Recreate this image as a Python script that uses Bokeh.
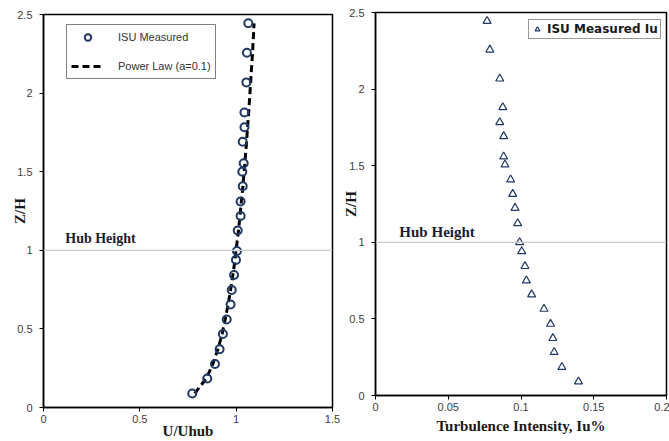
from bokeh.plotting import figure
from bokeh.layouts import row
from bokeh.models import Span, Label, Legend, LegendItem, FixedTicker, Range1d
from bokeh.embed import file_html
from bokeh.resources import INLINE

# ---- data ----
zh_measured = [0.089, 0.185, 0.277, 0.370, 0.467, 0.560, 0.655, 0.748, 0.843, 0.939,
               0.996, 1.126, 1.218, 1.311, 1.407, 1.500, 1.554, 1.690, 1.783, 1.877,
               2.068, 2.257, 2.444]
u_measured = [0.772, 0.850, 0.890, 0.914, 0.931, 0.951, 0.971, 0.977, 0.989, 0.999,
              1.004, 1.008, 1.023, 1.023, 1.034, 1.032, 1.039, 1.034, 1.043, 1.043,
              1.053, 1.056, 1.063]
u_power_law = [0.785, 0.845, 0.879, 0.905, 0.927, 0.943, 0.958, 0.971, 0.983, 0.994,
               0.999, 1.012, 1.020, 1.027, 1.035, 1.041, 1.045, 1.054, 1.059, 1.065,
               1.075, 1.085, 1.093]
iu_measured = [0.1395, 0.1281, 0.1228, 0.1219, 0.1203, 0.1158, 0.1073, 0.1037, 0.1027, 0.1005,
               0.0991, 0.0977, 0.0959, 0.0943, 0.0929, 0.0890, 0.0881, 0.0881, 0.0854, 0.0875,
               0.0854, 0.0786, 0.0767]
zh_iu = [0.091, 0.185, 0.283, 0.374, 0.467, 0.565, 0.659, 0.750, 0.844, 0.941,
         1.000, 1.124, 1.224, 1.315, 1.409, 1.507, 1.559, 1.692, 1.783, 1.881,
         2.068, 2.257, 2.444]

x1_ticks = [0, 0.5, 1, 1.5]
x1_labels = ["0", "0.5", "1", "1.5"]
y_ticks = [0, 0.5, 1, 1.5, 2, 2.5]
y_labels = ["0", "0.5", "1", "1.5", "2", "2.5"]
x2_ticks = [0, 0.05, 0.1, 0.15, 0.2]
x2_labels = ["0", "0.05", "0.1", "0.15", "0.2"]

NAVY = "#1f3864"
TICK_FONT = "Liberation Sans"
SERIF = "Liberation Serif"


def style_axes(p, xt, xl, x_title, y_title, x_title_standoff, y_title_standoff):
    p.xaxis.ticker = FixedTicker(ticks=xt)
    p.xaxis.major_label_overrides = {t: l for t, l in zip(xt, xl)}
    p.yaxis.ticker = FixedTicker(ticks=y_ticks)
    p.yaxis.major_label_overrides = {t: l for t, l in zip(y_ticks, y_labels)}
    for ax in (p.xaxis[0], p.yaxis[0]):
        ax.axis_line_color = "black"
        ax.axis_line_width = 1.5
        ax.major_tick_in = 0
        ax.major_tick_out = 4
        ax.minor_tick_line_color = None
        ax.major_label_text_font = TICK_FONT
        ax.major_label_text_font_size = "11px"
        ax.major_label_text_color = "#404040"
        ax.axis_label_text_font = SERIF
        ax.axis_label_text_font_style = "bold"
        ax.axis_label_text_font_size = "15px"
        ax.axis_label_text_color = "#1a1a1a"
    p.xaxis.major_label_standoff = 3
    p.yaxis.major_label_standoff = 7
    p.xaxis.axis_label = x_title
    p.yaxis.axis_label = y_title
    p.xaxis.axis_label_standoff = x_title_standoff
    p.yaxis.axis_label_standoff = y_title_standoff
    p.xgrid.visible = False
    p.ygrid.visible = False
    p.outline_line_color = "black"
    p.outline_line_width = 1.5
    p.outline_line_alpha = 1
    p.frame_align = False


# ---- left: velocity profile ----
p1 = figure(width=340, height=441, x_range=Range1d(0, 1.5), y_range=Range1d(0, 2.5),
            output_backend="svg", toolbar_location=None,
            min_border_left=43, min_border_right=8, min_border_top=14, min_border_bottom=34)
style_axes(p1, x1_ticks, x1_labels, "U/Uhub", "Z/H", -3, -14)

p1.add_layout(Span(location=1, dimension="width", line_color="#cccccc", line_width=1.2))
p1.add_layout(Label(x=0.113, y=1, y_offset=4, text="Hub Height", text_font=SERIF,
                    text_font_style="bold", text_font_size="14px", text_color="#1c1c30",
                    text_baseline="bottom"))

ln = p1.line(u_power_law, zh_measured, line_color="black", line_width=3, line_dash="7 4")
sc = p1.scatter(u_measured, zh_measured, marker="circle", size=8, fill_color=None,
                line_color=NAVY, line_width=2)

leg1 = Legend(items=[LegendItem(label="ISU Measured", renderers=[sc]),
                     LegendItem(label="Power Law (a=0.1)", renderers=[ln])],
              location=(23, 328), orientation="vertical",
              label_text_font=TICK_FONT, label_text_font_size="11px", label_text_color="#333333",
              border_line_color="black", border_line_width=1, background_fill_alpha=1,
              padding=4, spacing=13, glyph_height=16, label_height=16, glyph_width=33,
              label_standoff=14, margin=0)
p1.add_layout(leg1)

# ---- right: turbulence intensity ----
p2 = figure(width=329, height=441, x_range=Range1d(0, 0.2), y_range=Range1d(0, 2.5),
            output_backend="svg", toolbar_location=None,
            min_border_left=34, min_border_right=3, min_border_top=12, min_border_bottom=46)
style_axes(p2, x2_ticks, x2_labels, "Turbulence Intensity, Iu%", "Z/H", 4, -13)

p2.add_layout(Span(location=1, dimension="width", line_color="#cccccc", line_width=1.2))
p2.add_layout(Label(x=0.0164, y=1, y_offset=2, text="Hub Height", text_font=SERIF,
                    text_font_style="bold", text_font_size="15px", text_color="#1c1c30",
                    text_baseline="bottom"))

tri = p2.scatter(iu_measured, zh_iu, marker="triangle", size=8, fill_color=None,
                 line_color=NAVY, line_width=1.2)

leg2 = Legend(items=[LegendItem(label="ISU Measured Iu", renderers=[tri])],
              location=(153, 356), orientation="vertical",
              label_text_font="DejaVu Sans", label_text_font_size="12px", label_text_font_style="bold",
              label_text_color="#1a1a1a",
              border_line_color="#333333", border_line_width=1.5, background_fill_alpha=1,
              padding=2, glyph_height=14, label_height=14, glyph_width=12,
              label_standoff=4, margin=0)
p2.add_layout(leg2)

layout = row(p1, p2)
open("out.html", "w").write(file_html(layout, INLINE))
